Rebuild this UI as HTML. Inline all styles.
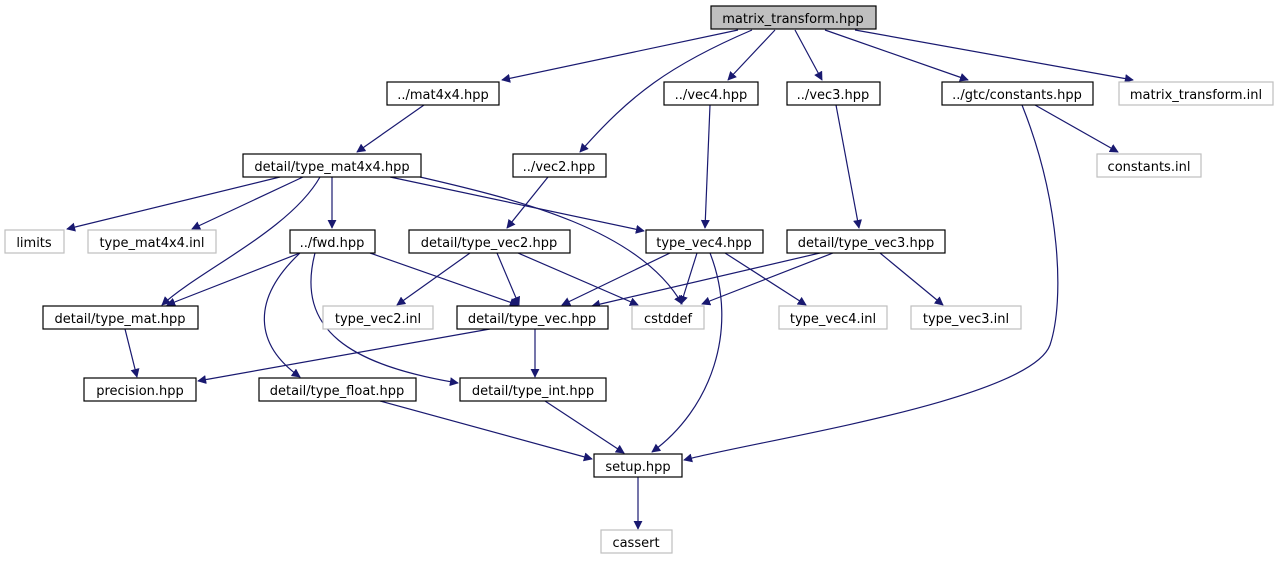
<!DOCTYPE html>
<html><head><meta charset="utf-8"><style>
html,body{margin:0;padding:0;background:#fff;}
svg text{font-family:"DejaVu Sans","Liberation Sans",sans-serif;font-size:13px;text-anchor:middle;fill:#000;}
</style></head><body>
<svg width="1279" height="560" viewBox="0 0 1279 560" xmlns="http://www.w3.org/2000/svg">
<defs><marker id="a" viewBox="0 0 10 10" refX="9" refY="5" markerWidth="9" markerHeight="9" markerUnits="userSpaceOnUse" orient="auto"><path d="M0,0 L10,5 L0,10 z" fill="#191970"/></marker></defs>
<g fill="none" stroke="#191970" stroke-width="1.2" marker-end="url(#a)">
<path d="M738,30 L502,80"/>
<path d="M752,30 C670,65 630,95 580,152"/>
<path d="M775,30 L728,80"/>
<path d="M795,30 L822,80"/>
<path d="M825,30 L968,80"/>
<path d="M855,30 L1133,80"/>
<path d="M424,105 L357,152"/>
<path d="M548,177 L507,228"/>
<path d="M710,105 L705,228"/>
<path d="M836,105 L859,228"/>
<path d="M1035,105 L1118,152"/>
<path d="M1022,105 C1060,200 1065,300 1050,345 C1030,400 760,440 684,460"/>
<path d="M280,177 L67,229"/>
<path d="M303,177 L192,229"/>
<path d="M320,177 C290,230 200,270 162,305"/>
<path d="M332,177 L332,228"/>
<path d="M390,177 L644,231"/>
<path d="M420,177 C520,200 640,230 682,304"/>
<path d="M300,253 L167,305"/>
<path d="M370,253 L518,305"/>
<path d="M300,253 C250,300 255,345 300,377"/>
<path d="M315,253 C295,330 350,365 458,383"/>
<path d="M470,253 L397,305"/>
<path d="M497,253 L519,305"/>
<path d="M518,253 L638,305"/>
<path d="M670,253 L562,305"/>
<path d="M697,253 L681,304"/>
<path d="M710,253 C740,330 710,410 652,452"/>
<path d="M725,253 L806,305"/>
<path d="M820,253 L592,306"/>
<path d="M833,253 L702,304"/>
<path d="M880,253 L943,305"/>
<path d="M125,329 L137,377"/>
<path d="M490,329 L198,381"/>
<path d="M535,329 L535,377"/>
<path d="M380,401 L592,459"/>
<path d="M545,401 L624,453"/>
<path d="M638,477 L638,529"/>
</g>
<g stroke-width="1.2">
<rect x="711" y="6" width="165" height="23" fill="#bfbfbf" stroke="#000"/>
<rect x="387" y="82" width="112" height="23" fill="#fff" stroke="#000"/>
<rect x="664" y="82" width="94" height="23" fill="#fff" stroke="#000"/>
<rect x="787" y="82" width="93" height="23" fill="#fff" stroke="#000"/>
<rect x="942" y="82" width="151" height="23" fill="#fff" stroke="#000"/>
<rect x="1119" y="82" width="154" height="23" fill="#fff" stroke="#bfbfbf"/>
<rect x="243" y="154" width="178" height="23" fill="#fff" stroke="#000"/>
<rect x="513" y="154" width="93" height="23" fill="#fff" stroke="#000"/>
<rect x="1097" y="154" width="104" height="23" fill="#fff" stroke="#bfbfbf"/>
<rect x="5" y="230" width="59" height="23" fill="#fff" stroke="#bfbfbf"/>
<rect x="88" y="230" width="128" height="23" fill="#fff" stroke="#bfbfbf"/>
<rect x="290" y="230" width="85" height="23" fill="#fff" stroke="#000"/>
<rect x="409" y="230" width="161" height="23" fill="#fff" stroke="#000"/>
<rect x="646" y="230" width="117" height="23" fill="#fff" stroke="#000"/>
<rect x="787" y="230" width="158" height="23" fill="#fff" stroke="#000"/>
<rect x="43" y="306" width="155" height="23" fill="#fff" stroke="#000"/>
<rect x="323" y="306" width="110" height="23" fill="#fff" stroke="#bfbfbf"/>
<rect x="457" y="306" width="151" height="23" fill="#fff" stroke="#000"/>
<rect x="632" y="306" width="72" height="23" fill="#fff" stroke="#bfbfbf"/>
<rect x="779" y="306" width="108" height="23" fill="#fff" stroke="#bfbfbf"/>
<rect x="911" y="306" width="110" height="23" fill="#fff" stroke="#bfbfbf"/>
<rect x="84" y="378" width="112" height="23" fill="#fff" stroke="#000"/>
<rect x="259" y="378" width="157" height="23" fill="#fff" stroke="#000"/>
<rect x="460" y="378" width="146" height="23" fill="#fff" stroke="#000"/>
<rect x="594" y="454" width="88" height="23" fill="#fff" stroke="#000"/>
<rect x="601" y="530" width="71" height="23" fill="#fff" stroke="#bfbfbf"/>
</g>
<g>
<text x="793" y="23">matrix_transform.hpp</text>
<text x="443" y="99">../mat4x4.hpp</text>
<text x="711" y="99">../vec4.hpp</text>
<text x="833" y="99">../vec3.hpp</text>
<text x="1017" y="99">../gtc/constants.hpp</text>
<text x="1196" y="99">matrix_transform.inl</text>
<text x="332" y="171">detail/type_mat4x4.hpp</text>
<text x="559" y="171">../vec2.hpp</text>
<text x="1149" y="171">constants.inl</text>
<text x="34" y="247">limits</text>
<text x="152" y="247">type_mat4x4.inl</text>
<text x="332" y="247">../fwd.hpp</text>
<text x="489" y="247">detail/type_vec2.hpp</text>
<text x="704" y="247">type_vec4.hpp</text>
<text x="866" y="247">detail/type_vec3.hpp</text>
<text x="120" y="323">detail/type_mat.hpp</text>
<text x="378" y="323">type_vec2.inl</text>
<text x="532" y="323">detail/type_vec.hpp</text>
<text x="668" y="323">cstddef</text>
<text x="833" y="323">type_vec4.inl</text>
<text x="966" y="323">type_vec3.inl</text>
<text x="140" y="395">precision.hpp</text>
<text x="337" y="395">detail/type_float.hpp</text>
<text x="533" y="395">detail/type_int.hpp</text>
<text x="638" y="471">setup.hpp</text>
<text x="636" y="547">cassert</text>
</g>
</svg>
</body></html>
